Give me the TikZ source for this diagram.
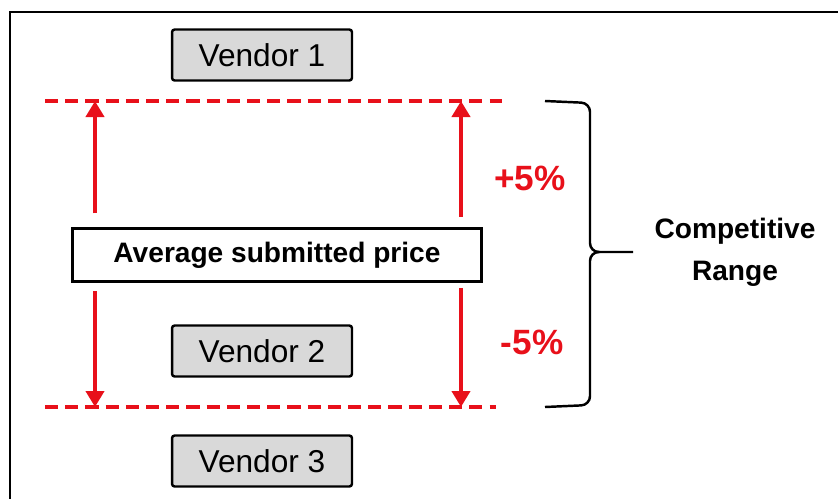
\documentclass[tikz,border=0pt]{standalone}
\usepackage{fontspec}
\setmainfont{Liberation Sans}
\usetikzlibrary{arrows.meta}
\definecolor{band}{HTML}{E8101A}
\definecolor{vendorgray}{HTML}{D9D9D9}
\tikzset{
  vendorbox/.style={draw=black,fill=vendorgray,line width=1.4pt,rounded corners=1.5pt,
    minimum width=3.6cm,minimum height=1.02cm,inner sep=0pt,font=\fontsize{18}{20}\selectfont},
  avgbox/.style={draw=black,fill=white,line width=1.3pt,minimum width=8.18cm,
    minimum height=1.06cm,inner sep=0pt,font=\bfseries\fontsize{16}{18}\selectfont},
  bandline/.style={band,line width=2.7pt,dash pattern=on 7.5pt off 4pt},
  pctarrow/.style={->,band,line width=2.7pt},
  pctlabel/.style={band,font=\bfseries\fontsize{20}{22}\selectfont}
}
\begin{document}
\begin{tikzpicture}[x={(0.02cm,0)},y={(0,-0.02cm)},
 >={Triangle[length=3.2mm,width=3.6mm]}]
\path[use as bounding box,clip] (0,0) rectangle (838,498);
% outer frame runs off the right and bottom edges
\draw[line width=1.7pt] (10,520) -- (10,12) -- (860,12);
\node[vendorbox] (v1) at (262,55) {Vendor 1};
\node[vendorbox] (v2) at (262,351) {Vendor 2};
\node[vendorbox] (v3) at (262,461) {Vendor 3};
\node[avgbox] (avg) at (277,255) {Average submitted price};
% band limits
\coordinate (upL) at (95,101);
\coordinate (upR) at (461,101);
\coordinate (loL) at (95,407);
\coordinate (loR) at (461,407);
\draw[bandline] (45,101) -- (502,101);
\draw[bandline] (45,407) -- (496,407);
\draw[pctarrow] ([yshift=8pt]avg.north -| upL) -- (upL);
\draw[pctarrow] ([yshift=6pt]avg.north -| upR) -- (upR);
\draw[pctarrow] ([yshift=-5pt]avg.south -| loL) -- (loL);
\draw[pctarrow] ([yshift=-3pt]avg.south -| loR) -- (loR);
\node[pctlabel] (plus) at (530,178) {+5\%};
\node[pctlabel] (minus) at (532,342) {-5\%};
% brace
\draw[line width=1.4pt,rounded corners=5pt]
 (545,101) -- (590,103) -- (590,252) -- (633,252);
\draw[line width=1.4pt,rounded corners=5pt]
 (600,252) -- (590,252) -- (590,405) -- (545,407);
\node[align=center,font=\bfseries\fontsize{16}{24}\selectfont] (range) at (735,252)
 {Competitive\\Range};
\end{tikzpicture}
\end{document}
